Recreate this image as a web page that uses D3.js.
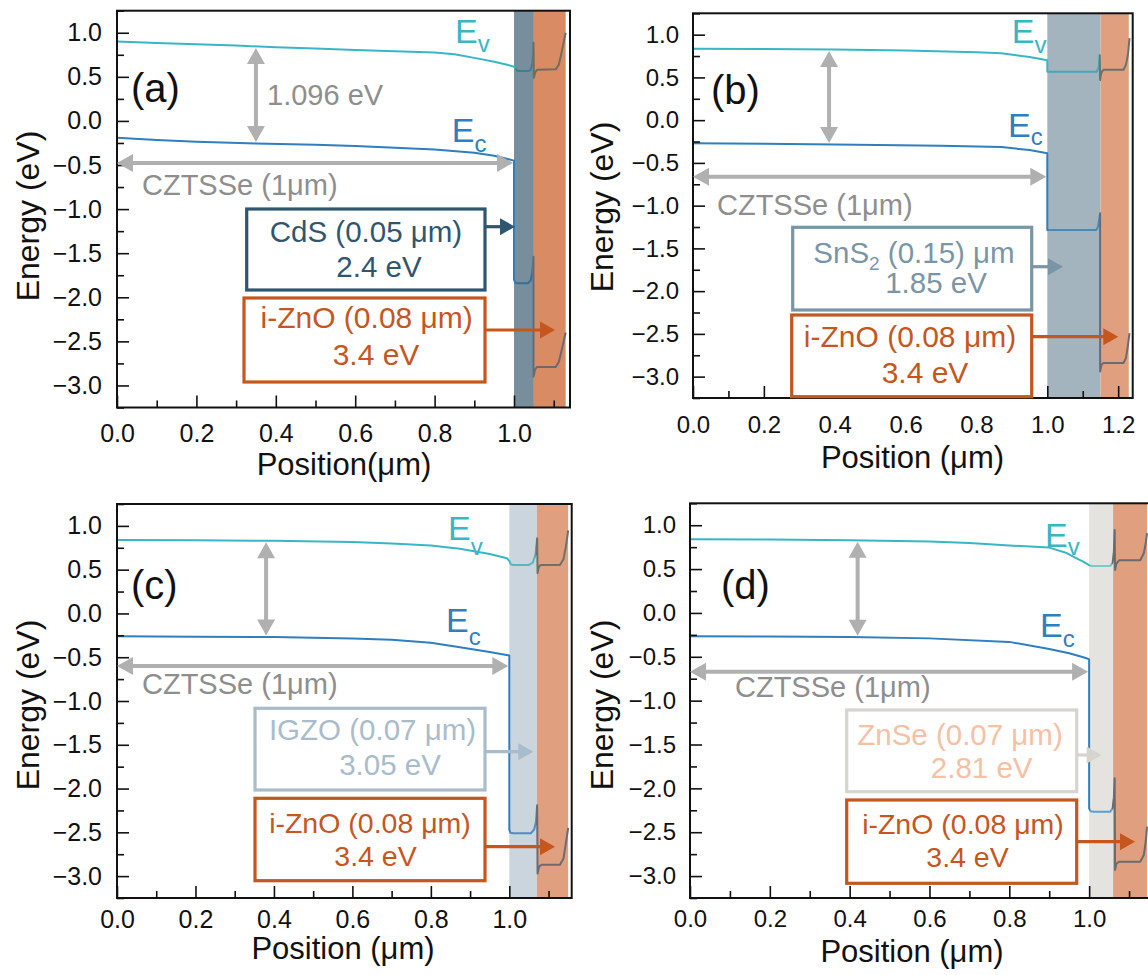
<!DOCTYPE html>
<html><head><meta charset="utf-8">
<script src="https://cdn.jsdelivr.net/npm/d3@7"></script>
<style>body{margin:0;background:#fff}svg{display:block}text{font-family:"Liberation Sans",Arial,sans-serif}</style>
</head><body><svg id="c" width="1148" height="975"></svg>
<script>
// ---------------- data ----------------
const panelLabels = ["(a)", "(b)", "(c)", "(d)"];
const xTickValues = [0, 0.2, 0.4, 0.6, 0.8, 1.0, 1.2];
const xMinorValues = [0.1, 0.3, 0.5, 0.7, 0.9, 1.1];
const yTickValues = [1.0, 0.5, 0.0, -0.5, -1.0, -1.5, -2.0, -2.5, -3.0];
const yMinorValues = [1.25, 0.75, 0.25, -0.25, -0.75, -1.25, -1.75, -2.25, -2.75, -3.25];
const bufferNames = ["CdS", "SnS", "IGZO", "ZnSe"];
const bufferThickLabels = [" (0.05 μm)", " (0.15) μm", " (0.07 μm)", " (0.07 μm)"];
const bufferGapLabels = ["2.4 eV", "1.85 eV", "3.05 eV", "2.81 eV"];
const bufferStart = [1.0, 1.0, 1.0, 1.0];
const bufferEnd = [1.05, 1.15, 1.07, 1.06];
const znoEnd = [1.13, 1.23, 1.15, 1.145];
const znoLabel = "i-ZnO (0.08 μm)";
const znoGapLabel = "3.4 eV";
const absorberLabel = "CZTSSe (1μm)";
const gapLabel = "1.096 eV";
const gapPositions = [0.35, 0.384, 0.38, 0.42];
const absorberArrowEnergy = [-0.476, -0.661, -0.60, -0.67];

const evA = [[0,0.90],[0.1,0.885],[0.2,0.87],[0.3,0.855],[0.4,0.835],[0.5,0.82],[0.6,0.805],[0.7,0.79],[0.8,0.775],[0.85,0.755],[0.9,0.715],[0.95,0.67],[0.98,0.64],[1.0,0.615],[1.004,0.585],[1.01,0.567],[1.035,0.565],[1.042,0.58],[1.046,0.65],[1.048,0.75],[1.049,0.886],[1.05,0.49],[1.053,0.55],[1.058,0.58],[1.105,0.585],[1.113,0.64],[1.12,0.78],[1.13,1.0]];
const ecA = [[0,-0.19],[0.1,-0.215],[0.2,-0.235],[0.35,-0.255],[0.5,-0.27],[0.6,-0.285],[0.7,-0.305],[0.8,-0.325],[0.9,-0.36],[0.95,-0.395],[1.0,-0.45],[1.0,-1.80],[1.003,-1.835],[1.01,-1.84],[1.035,-1.84],[1.042,-1.81],[1.046,-1.72],[1.049,-1.54],[1.049,-2.90],[1.053,-2.82],[1.058,-2.79],[1.105,-2.79],[1.113,-2.73],[1.12,-2.60],[1.13,-2.40]];
const evB = [[0,0.835],[0.2,0.832],[0.4,0.826],[0.6,0.815],[0.8,0.795],[0.87,0.782],[0.95,0.74],[1.0,0.70],[1.0,0.567],[1.14,0.567],[1.145,0.62],[1.148,0.76],[1.149,0.47],[1.152,0.55],[1.158,0.59],[1.215,0.59],[1.222,0.65],[1.228,0.78],[1.232,0.96]];
const ecB = [[0,-0.27],[0.2,-0.277],[0.4,-0.285],[0.7,-0.30],[0.87,-0.315],[0.95,-0.35],[1.0,-0.387],[1.0,-1.285],[1.138,-1.285],[1.143,-1.25],[1.147,-1.15],[1.149,-1.09],[1.149,-2.94],[1.153,-2.86],[1.158,-2.84],[1.215,-2.84],[1.222,-2.78],[1.227,-2.65],[1.232,-2.49]];
const evC = [[0,0.84],[0.2,0.836],[0.4,0.83],[0.6,0.815],[0.7,0.80],[0.8,0.775],[0.874,0.74],[0.95,0.68],[0.994,0.63],[1.0,0.60],[1.004,0.56],[1.01,0.553],[1.049,0.553],[1.06,0.58],[1.067,0.68],[1.071,0.858],[1.072,0.46],[1.075,0.53],[1.08,0.553],[1.129,0.553],[1.138,0.62],[1.144,0.76],[1.15,0.95]];
const ecC = [[0,-0.26],[0.2,-0.265],[0.4,-0.27],[0.6,-0.285],[0.7,-0.30],[0.8,-0.335],[0.874,-0.385],[0.95,-0.44],[1.0,-0.48],[1.0,-2.47],[1.003,-2.505],[1.01,-2.51],[1.055,-2.51],[1.063,-2.47],[1.068,-2.38],[1.071,-2.19],[1.072,-2.97],[1.076,-2.89],[1.082,-2.87],[1.129,-2.87],[1.138,-2.80],[1.144,-2.63],[1.15,-2.45]];
const evD = [[0,0.84],[0.2,0.836],[0.4,0.83],[0.6,0.815],[0.7,0.797],[0.8,0.77],[0.9,0.745],[0.94,0.69],[0.97,0.62],[0.985,0.585],[1.0,0.545],[1.006,0.535],[1.053,0.535],[1.059,0.58],[1.062,0.70],[1.064,0.945],[1.065,0.49],[1.068,0.56],[1.075,0.60],[1.128,0.60],[1.137,0.68],[1.142,0.80],[1.145,0.91]];
const ecD = [[0,-0.265],[0.2,-0.268],[0.4,-0.275],[0.6,-0.29],[0.8,-0.33],[0.9,-0.41],[0.95,-0.46],[0.994,-0.517],[1.0,-0.53],[1.0,-2.23],[1.004,-2.262],[1.01,-2.266],[1.053,-2.266],[1.059,-2.22],[1.062,-2.10],[1.064,-1.886],[1.065,-2.93],[1.068,-2.86],[1.075,-2.836],[1.128,-2.836],[1.137,-2.76],[1.142,-2.60],[1.145,-2.437]];
const evData = [evA, evB, evC, evD];
const ecData = [ecA, ecB, ecC, ecD];

// ---------------- layout / styles ----------------
const EV_COLOR = "#38b6c6", EC_COLOR = "#2e7ec0";
const GREY_ARROW = "#b0b0b0", GREY_TEXT = "#8e8e8e";
const ZNO_COLOR = "#c5561e";
const cfg = [
 {xr:[117,570], xd:[0,1.141], yr:[407.5,10.7], tickFs:25, padY:15, padX:17, xTitle:"Position(μm)", xt:[344,475], yt:[39,216], lab:[131,102],
  ev:[455,43.3,51.7], ec:[451.7,141.7,151.7], czt:[142,194.5],
  buf:{box:[246.7,209,485,290], stroke:"#2f5670", text:"#2f5670", t1:[366,241.7], t2:[379,276.7], ay:226.7, tip:515},
  zno:{box:[244,298,485,382], fs:30, t1:[366.7,328.3], t2:[376,365], ay:330, tip:555},
  bufFill:"#778f9c", znoFill:"#d98b64", bufEv:"#3d7f8f", bufEc:"#3a6d96", znoEv:"#6e6d60", znoEc:"#676a76"},
 {xr:[693,1132.7], xd:[0,1.241], yr:[398,13.3], tickFs:24, padY:14, padX:18, xTitle:"Position (μm)", xt:[912.5,468.3], yt:[613,207], lab:[711,104],
  ev:[1011.7,43.3,53.3], ec:[1008,136.7,145], czt:[717,215],
  buf:{box:[792.7,227.3,1031.7,310], stroke:"#7a95a6", text:"#7a95a6", t1:[914,263.3], t2:[936,293.3], ay:266.7, tip:1063},
  zno:{box:[791.7,315,1031.7,396.7], fs:30, t1:[910,346.7], t2:[925,382.7], ay:336.7, tip:1118.3},
  bufFill:"#a3b4bf", znoFill:"#e0a07f", bufEv:"#45a7b8", bufEc:"#4a88b8", znoEv:"#6d7268", znoEc:"#6b6b72"},
 {xr:[117,571.7], xd:[0,1.159], yr:[898,504], tickFs:25, padY:15, padX:12, xTitle:"Position (μm)", xt:[343,959], yt:[39,705], lab:[131,599],
  ev:[448,540,555], ec:[446,631.7,645], czt:[142,694],
  buf:{box:[255,708.3,485,790], stroke:"#a9bccb", text:"#a9bccb", t1:[372.5,740], t2:[390,775], ay:751.7, tip:533.3},
  zno:{box:[255,798.3,485,880.7], fs:28.5, t1:[370,833], t2:[375.5,866], ay:846.7, tip:555},
  bufFill:"#cad5dd", znoFill:"#e0a07f", bufEv:"#5ab5c2", bufEc:"#4d8dc8", znoEv:"#6d7268", znoEc:"#6b6b72"},
 {xr:[690,1153], xd:[0,1.16], yr:[898,503.3], tickFs:24, padY:14, padX:12, xTitle:"Position (μm)", xt:[912,962], yt:[613,705], lab:[721,599],
  ev:[1045,546.7,555], ec:[1040,636.7,646.7], czt:[735,697],
  buf:{box:[846.7,710,1076.7,791.7], stroke:"#d6d4cf", text:"#f5c0a3", t1:[960,745], t2:[981.7,778.3], ay:755, tip:1101.7},
  zno:{box:[846.7,800,1076.7,883.3], fs:28.5, t1:[963,834], t2:[967.5,867], ay:841.7, tip:1135},
  bufFill:"#e4e3df", znoFill:"#e0a07f", bufEv:"#7fc6cf", bufEc:"#5a9fd3", znoEv:"#6b6b6b", znoEc:"#6b6b6b"}
];

const svg = d3.select("#c");
const defs = svg.append("defs");

function interp(arr, xv) {
  for (let i = 0; i < arr.length - 1; i++) {
    if (arr[i][0] <= xv && arr[i + 1][0] >= xv) {
      const dx = arr[i + 1][0] - arr[i][0];
      const t = dx ? (xv - arr[i][0]) / dx : 0;
      return arr[i][1] + t * (arr[i + 1][1] - arr[i][1]);
    }
  }
  return arr[arr.length - 1][1];
}

function head(g, x, y, ang, color, hl, hw) {
  const c = Math.cos(ang), s = Math.sin(ang);
  const p = [[x, y], [x - hl * c + hw * s, y - hl * s - hw * c], [x - hl * c - hw * s, y - hl * s + hw * c]];
  g.append("polygon").attr("points", p.map(q => q.join(",")).join(" ")).attr("fill", color);
}
function arrow(g, x1, y1, x2, y2, color, w, hl, hw, both) {
  const ang = Math.atan2(y2 - y1, x2 - x1);
  const c = Math.cos(ang), s = Math.sin(ang);
  const sx = both ? x1 + hl * 0.9 * c : x1, sy = both ? y1 + hl * 0.9 * s : y1;
  g.append("line").attr("x1", sx).attr("y1", sy).attr("x2", x2 - hl * 0.9 * c).attr("y2", y2 - hl * 0.9 * s)
    .attr("stroke", color).attr("stroke-width", w);
  head(g, x2, y2, ang, color, hl, hw);
  if (both) head(g, x1, y1, ang + Math.PI, color, hl, hw);
}

cfg.forEach((c, i) => {
  const g = svg.append("g");
  const x = d3.scaleLinear().domain(c.xd).range(c.xr);
  const y = d3.scaleLinear().domain([-3.25, 1.25]).range(c.yr);
  const [X0, X1] = c.xr, [Yb, Yt] = c.yr;
  const cid = "clip" + i;
  defs.append("clipPath").attr("id", cid).append("rect").attr("x", X0).attr("y", Yt).attr("width", X1 - X0).attr("height", Yb - Yt);
  const plot = g.append("g").attr("clip-path", `url(#${cid})`);

  plot.append("rect").attr("x", x(bufferStart[i])).attr("y", Yt).attr("width", x(bufferEnd[i]) - x(bufferStart[i])).attr("height", Yb - Yt).attr("fill", c.bufFill);
  plot.append("rect").attr("x", x(bufferEnd[i])).attr("y", Yt).attr("width", x(znoEnd[i]) - x(bufferEnd[i])).attr("height", Yb - Yt).attr("fill", c.znoFill);

  const line = d3.line().x(d => x(d[0])).y(d => y(d[1]));
  const regions = [
    [X0 - 5, x(bufferStart[i]) + 1.5, EV_COLOR, EC_COLOR],
    [x(bufferStart[i]) + 1.5, x(bufferEnd[i]) - 1.5, c.bufEv, c.bufEc],
    [x(bufferEnd[i]) - 1.5, X1 + 10, c.znoEv, c.znoEc]
  ];
  regions.forEach((r, k) => {
    const id = `cl${i}_${k}`;
    defs.append("clipPath").attr("id", id).append("rect").attr("x", r[0]).attr("y", Yt - 5).attr("width", r[1] - r[0]).attr("height", Yb - Yt + 10);
    const lg = plot.append("g").attr("clip-path", `url(#${id})`);
    lg.append("path").attr("d", line(evData[i])).attr("fill", "none").attr("stroke", r[2]).attr("stroke-width", 2).attr("stroke-linejoin", "round");
    lg.append("path").attr("d", line(ecData[i])).attr("fill", "none").attr("stroke", r[3]).attr("stroke-width", 2).attr("stroke-linejoin", "round");
  });

  // axes (ticks inward)
  const fmt = d3.format(".1f");
  const xa = g.append("g").attr("transform", `translate(0,${Yb})`)
    .call(d3.axisBottom(x).tickValues(xTickValues.filter(v => v <= c.xd[1])).tickSize(-12).tickPadding(c.padX).tickFormat(fmt));
  const xm = g.append("g").attr("transform", `translate(0,${Yb})`)
    .call(d3.axisBottom(x).tickValues(xMinorValues.filter(v => v <= c.xd[1])).tickSize(-7).tickFormat(""));
  const ya = g.append("g").attr("transform", `translate(${X0},0)`)
    .call(d3.axisLeft(y).tickValues(yTickValues).tickSize(-12).tickPadding(c.padY).tickFormat(fmt));
  const ym = g.append("g").attr("transform", `translate(${X0},0)`)
    .call(d3.axisLeft(y).tickValues(yMinorValues).tickSize(-7).tickFormat(""));
  [xa, xm, ya, ym].forEach(a => {
    a.select(".domain").remove();
    a.selectAll(".tick line").attr("stroke", "#111").attr("stroke-width", 1.6);
    a.selectAll("text").attr("font-size", c.tickFs).attr("fill", "#111").style("font-family", '"Liberation Sans", Arial, sans-serif');
  });
  g.append("rect").attr("x", X0).attr("y", Yt).attr("width", X1 - X0).attr("height", Yb - Yt)
    .attr("fill", "none").attr("stroke", "#111").attr("stroke-width", 2);

  // titles
  g.append("text").attr("x", c.xt[0]).attr("y", c.xt[1]).attr("text-anchor", "middle").attr("font-size", 31).attr("fill", "#111").text(c.xTitle);
  g.append("text").attr("transform", `translate(${c.yt[0]},${c.yt[1]}) rotate(-90)`).attr("text-anchor", "middle")
    .attr("font-size", 32).attr("fill", "#111").text("Energy (eV)");
  g.append("text").attr("x", c.lab[0]).attr("y", c.lab[1]).attr("font-size", 40).attr("fill", "#111").text(panelLabels[i]);

  // band labels
  const evl = g.append("text").attr("x", c.ev[0]).attr("y", c.ev[1]).attr("fill", EV_COLOR).attr("font-size", 34);
  evl.append("tspan").text("E");
  evl.append("tspan").attr("font-size", 24).attr("dy", c.ev[2] - c.ev[1]).text("v");
  const ecl = g.append("text").attr("x", c.ec[0]).attr("y", c.ec[1]).attr("fill", EC_COLOR).attr("font-size", 34);
  ecl.append("tspan").text("E");
  ecl.append("tspan").attr("font-size", 24).attr("dy", c.ec[2] - c.ec[1]).text("c");

  // bandgap arrow
  const gp = gapPositions[i];
  arrow(g, x(gp), y(interp(evData[i], gp)) + 1.5, x(gp), y(interp(ecData[i], gp)) - 1.5, GREY_ARROW, 4, 16, 9, true);
  if (i === 0) g.append("text").attr("x", 267).attr("y", 105).attr("font-size", 29).attr("fill", GREY_TEXT).text(gapLabel);

  // absorber arrow
  const ay = y(absorberArrowEnergy[i]);
  arrow(g, x(0), ay, x(1.0) - 1, ay, GREY_ARROW, 4, 16, 9, true);
  g.append("text").attr("x", c.czt[0]).attr("y", c.czt[1]).attr("font-size", 29).attr("fill", GREY_TEXT).text(absorberLabel);

  // buffer box
  const b = c.buf;
  g.append("rect").attr("x", b.box[0]).attr("y", b.box[1]).attr("width", b.box[2] - b.box[0]).attr("height", b.box[3] - b.box[1])
    .attr("fill", "white").attr("stroke", b.stroke).attr("stroke-width", 3.2);
  const t1 = g.append("text").attr("x", b.t1[0]).attr("y", b.t1[1]).attr("text-anchor", "middle").attr("font-size", 29.5).attr("fill", b.text);
  t1.append("tspan").text(bufferNames[i]);
  if (i === 1) { t1.append("tspan").attr("font-size", 19).attr("dy", 7).text("2"); t1.append("tspan").attr("dy", -7).text(bufferThickLabels[i]); }
  else t1.append("tspan").text(bufferThickLabels[i]);
  g.append("text").attr("x", b.t2[0]).attr("y", b.t2[1]).attr("text-anchor", "middle").attr("font-size", 29.5).attr("fill", b.text).text(bufferGapLabels[i]);
  arrow(g, b.box[2], b.ay, b.tip, b.ay, b.stroke, 3.2, 15, 8.5, false);

  // ZnO box
  const z = c.zno;
  g.append("rect").attr("x", z.box[0]).attr("y", z.box[1]).attr("width", z.box[2] - z.box[0]).attr("height", z.box[3] - z.box[1])
    .attr("fill", "white").attr("stroke", ZNO_COLOR).attr("stroke-width", 3.2);
  g.append("text").attr("x", z.t1[0]).attr("y", z.t1[1]).attr("text-anchor", "middle").attr("font-size", z.fs).attr("fill", ZNO_COLOR).text(znoLabel);
  g.append("text").attr("x", z.t2[0]).attr("y", z.t2[1]).attr("text-anchor", "middle").attr("font-size", z.fs).attr("fill", ZNO_COLOR).text(znoGapLabel);
  arrow(g, z.box[2], z.ay, z.tip, z.ay, ZNO_COLOR, 3.2, 15, 8.5, false);
});
</script></body></html>
